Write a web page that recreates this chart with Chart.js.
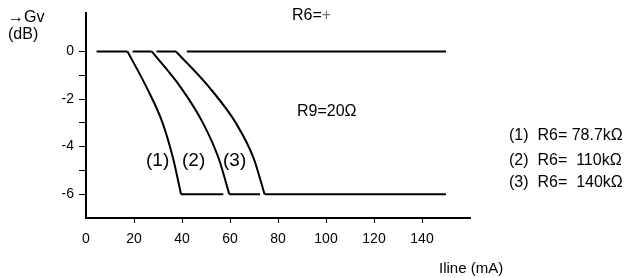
<!DOCTYPE html>
<html>
<head>
<meta charset="utf-8">
<script src="https://cdn.jsdelivr.net/npm/chart.js@4.4.1/dist/chart.umd.min.js"></script>
<style>
  body { margin: 0; background: #fff; }
  #wrap { position: relative; width: 629px; height: 278px; }
  .note {
    position: absolute;
    font-family: "Liberation Sans", Arial, sans-serif;
    font-size: 16px;
    color: #000;
    white-space: pre;
    transform: translateY(-50%);
    line-height: 1;
  }
  .big { font-size: 19px; }
</style>
</head>
<body>
<div id="wrap">
  <canvas id="grafico" width="629" height="278"></canvas>
  <div class="note" style="left:8px; top:17px;">&rarr;Gv</div>
  <div class="note" style="left:8px; top:34px;">(dB)</div>
  <div class="note" style="left:292px; top:15px;">R6=<span style="color:#777; font-weight:100;">+</span></div>
  <div class="note" style="left:297px; top:111px;">R9=20Ω</div>
  <div class="note big" style="left:146px; top:159px;">(1)</div>
  <div class="note big" style="left:182px; top:159px;">(2)</div>
  <div class="note big" style="left:223px; top:159px;">(3)</div>
  <div class="note" style="left:509px; top:135px;">(1)  R6= 78.7kΩ</div>
  <div class="note" style="left:509px; top:160px;">(2)  R6=  110kΩ</div>
  <div class="note" style="left:509px; top:182px;">(3)  R6=  140kΩ</div>
  <div class="note" style="left:439px; top:267px; font-size:15px;">Iline (mA)</div>
</div>
<script>
"use strict";
// Dados (Gv em dB x Iline em mA)
const nivelTopo = 0;
const nivelFundo = -6;

// trechos horizontais em 0 dB
const topoInicio = [4.4, 19.4, 29.4, 42];
const topoFim = [17.3, 27.4, 37.5, 150];

// trechos horizontais em -6 dB
const fundoInicio = [39.6, 59.7, 74.4];
const fundoFim = [57.2, 72.5, 150];

// curvas de queda
const curvaY = [0, -1.5, -3, -4.5, -6];
const curva1X = [17.3, 25.2, 31.9, 36.3, 39.6];
const curva2X = [27.4, 39.4, 48.7, 55.3, 59.7];
const curva3X = [37.5, 51.3, 62.4, 69.9, 74.4];

const xTicks = [0, 20, 40, 60, 80, 100, 120, 140];
const yTicks = [0, -2, -4, -6];

const trechos = (inicio, fim, nivel) => {
  let pontos = [];
  inicio.forEach((x, i) => {
    pontos.push({ x: x, y: nivel });
    pontos.push({ x: fim[i], y: nivel });
    pontos.push({ x: fim[i], y: null });
  });
  return pontos;
};

const juntar = (xs, ys) => xs.map((x, i) => ({ x: x, y: ys[i] }));

const estiloLinha = {
  showLine: true,
  borderColor: "#000",
  borderWidth: 2,
  pointRadius: 0,
  fill: false,
  spanGaps: false,
};

const estiloCurva = {
  ...estiloLinha,
  cubicInterpolationMode: "monotone",
};

const fonte = { family: "'Liberation Sans', Arial, sans-serif", size: 14 };

let grafico = document.getElementById("grafico");

new Chart(grafico, {
  type: "scatter",
  data: {
    datasets: [
      { ...estiloLinha, data: trechos(topoInicio, topoFim, nivelTopo), tension: 0 },
      { ...estiloLinha, data: trechos(fundoInicio, fundoFim, nivelFundo), tension: 0 },
      { ...estiloCurva, data: juntar(curva1X, curvaY) },
      { ...estiloCurva, data: juntar(curva2X, curvaY) },
      { ...estiloCurva, data: juntar(curva3X, curvaY) },
    ],
  },
  options: {
    responsive: false,
    animation: false,
    devicePixelRatio: 1,
    layout: { padding: { left: 0, top: 13, right: 159, bottom: 0 } },
    plugins: { legend: { display: false }, tooltip: { enabled: false } },
    scales: {
      x: {
        type: "linear",
        min: 0,
        max: 160,
        afterFit: (s) => { s.height = 60; },
        ticks: {
          stepSize: 20,
          color: "#000",
          font: fonte,
          padding: 8,
          maxRotation: 0,
          callback: (v) => (xTicks.includes(v) ? String(v) : null),
        },
        grid: {
          drawOnChartArea: false,
          drawTicks: true,
          tickLength: 5,
          color: (c) => (c.tick && c.tick.value === 0 ? "rgba(0,0,0,0)" : "#000"),
          lineWidth: 1,
        },
        border: { color: "#000", width: 2 },
      },
      y: {
        min: -7,
        max: 1.6,
        afterFit: (s) => { s.width = 86; },
        ticks: {
          stepSize: 1,
          color: "#000",
          font: fonte,
          padding: 5,
          callback: (v) => {
            if (v > 0.5 || v < -6.5) return null;
            return yTicks.includes(v) ? String(v) : "";
          },
        },
        grid: {
          drawOnChartArea: false,
          drawTicks: true,
          tickLength: 7,
          color: "#000",
          lineWidth: 1,
        },
        border: { color: "#000", width: 2 },
      },
    },
  },
});
</script>
</body>
</html>
